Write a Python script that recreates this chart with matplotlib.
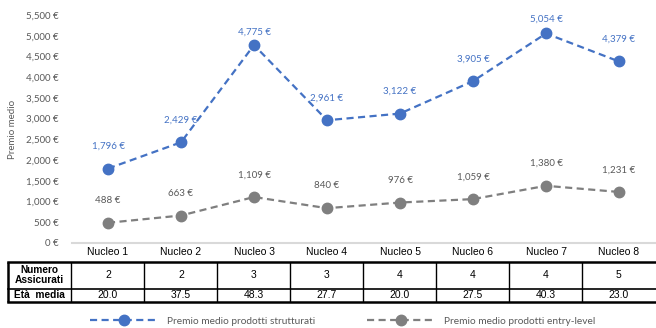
import matplotlib.pyplot as plt
from matplotlib.lines import Line2D

# categorie e serie
nuclei = ["Nucleo 1", "Nucleo 2", "Nucleo 3", "Nucleo 4",
          "Nucleo 5", "Nucleo 6", "Nucleo 7", "Nucleo 8"]
premio_strutturati = [1796, 2429, 4775, 2961, 3122, 3905, 5054, 4379]
premio_entry = [488, 663, 1109, 840, 976, 1059, 1380, 1231]
numero_assicurati = [2, 2, 3, 3, 4, 4, 4, 5]
eta_media = [20.0, 37.5, 48.3, 27.7, 20.0, 27.5, 40.3, 23.0]
yticks = list(range(0, 5501, 500))

BLUE = "#4472C4"
GRAY = "#7F7F7F"
TXT = "#595959"
CHART_FONT = ["Lato", "DejaVu Sans"]
TABLE_FONT = ["Liberation Sans", "DejaVu Sans"]

W, H = 656, 328
fig = plt.figure(figsize=(W / 100, H / 100), dpi=100)


def px_axes(x0, y0, x1, y1):
    # rettangolo in pixel (origine in alto a sinistra)
    return fig.add_axes([x0 / W, 1 - y1 / H, (x1 - x0) / W, (y1 - y0) / H])


ax = px_axes(71.5, 15, 655.5, 243)
x = list(range(len(nuclei)))
dash = (3.2, 2.0)

ax.plot(x, premio_strutturati, color=BLUE, lw=1.6, dashes=dash,
        marker="o", ms=7.5, zorder=3)
ax.plot(x, premio_entry, color=GRAY, lw=1.6, dashes=dash,
        marker="o", ms=7.5, zorder=3)

# le etichette dei punti piu' alti restano dentro l'area del grafico
top_offset = {2: 9.5, 6: 10.5}
for xi, v in zip(x, premio_strutturati):
    ax.annotate(f"{v:,} €", (xi, v), xytext=(0, top_offset.get(xi, 16)),
                textcoords="offset points", ha="center", va="center",
                fontsize=7, color=BLUE, family=CHART_FONT)
for xi, v in zip(x, premio_entry):
    ax.annotate(f"{v:,} €", (xi, v), xytext=(0, 16), textcoords="offset points",
                ha="center", va="center", fontsize=7, color=TXT,
                family=CHART_FONT)

ax.set_xlim(-0.5, len(nuclei) - 0.5)
ax.set_ylim(0, 5500)
ax.set_yticks(yticks)
ax.set_yticklabels([f"{t:,} €" for t in yticks], fontsize=7, color=TXT,
                   family=CHART_FONT)
ax.set_xticks(x)
ax.set_xticklabels(nuclei, fontsize=7.5, color="black", family=TABLE_FONT)
ax.tick_params(axis="both", length=0)
ax.tick_params(axis="y", pad=9)
ax.tick_params(axis="x", pad=3)
for s in ["top", "right", "left"]:
    ax.spines[s].set_visible(False)
ax.spines["bottom"].set_color("#D9D9D9")
ax.spines["bottom"].set_linewidth(1.5)
ax.set_ylabel("Premio medio", fontsize=7, color=TXT, family=CHART_FONT)
ax.yaxis.set_label_coords(-0.093, 0.5)

# tabella sotto il grafico, colonne allineate alle categorie
tab = px_axes(8, 262, 656, 302)
first_w = 63.5 / 73
tab.set_xlim(-0.5 - first_w, len(nuclei) - 0.5 + 0.01)
tab.set_ylim(2, 0)
tab.axis("off")
x_left = -0.5 - first_w
x_right = len(nuclei) - 0.5 + 0.01
row_split = 26.5 / 40 * 2

for xb in [x_left + 0.002, -0.5] + [i + 0.5 for i in x[:-1]]:
    lw = 1.8 if xb == x_left + 0.002 else 1.0
    tab.plot([xb, xb], [0, 2], color="black", lw=lw, solid_capstyle="butt",
             clip_on=False)
tab.plot([x_left, x_right], [0.02, 0.02], color="black", lw=1.8, clip_on=False)
tab.plot([x_left, x_right], [1.98, 1.98], color="black", lw=1.8, clip_on=False)
tab.plot([x_left, x_right], [row_split, row_split], color="black", lw=1.2,
         clip_on=False)

mid_label = x_left + first_w / 2
tab.text(mid_label, row_split / 2, "Numero\nAssicurati", ha="center",
         va="center", fontsize=7.3, fontweight="bold", family=TABLE_FONT,
         linespacing=1.0)
tab.text(mid_label, (row_split + 2) / 2, "Età  media", ha="center",
         va="center", fontsize=7.3, fontweight="bold", family=TABLE_FONT)
for xi, n, e in zip(x, numero_assicurati, eta_media):
    tab.text(xi, row_split / 2, str(n), ha="center", va="center",
             fontsize=7.5, family=TABLE_FONT)
    tab.text(xi, (row_split + 2) / 2, f"{e:.1f}", ha="center", va="center",
             fontsize=7.5, family=TABLE_FONT)

# legenda
handles = [
    Line2D([], [], color=BLUE, lw=1.6, dashes=dash, marker="o", ms=7.5),
    Line2D([], [], color=GRAY, lw=1.6, dashes=dash, marker="o", ms=7.5),
]
fig.legend(handles, ["Premio medio prodotti strutturati",
                     "Premio medio prodotti entry-level"],
           loc="center", bbox_to_anchor=(343 / W, 1 - 321 / H), ncol=2,
           frameon=False, handlelength=6.7, columnspacing=5.1,
           handletextpad=0.9, borderpad=0, borderaxespad=0,
           prop={"family": CHART_FONT, "size": 7.3}, labelcolor=TXT)

fig.savefig("out.png", dpi=100)
